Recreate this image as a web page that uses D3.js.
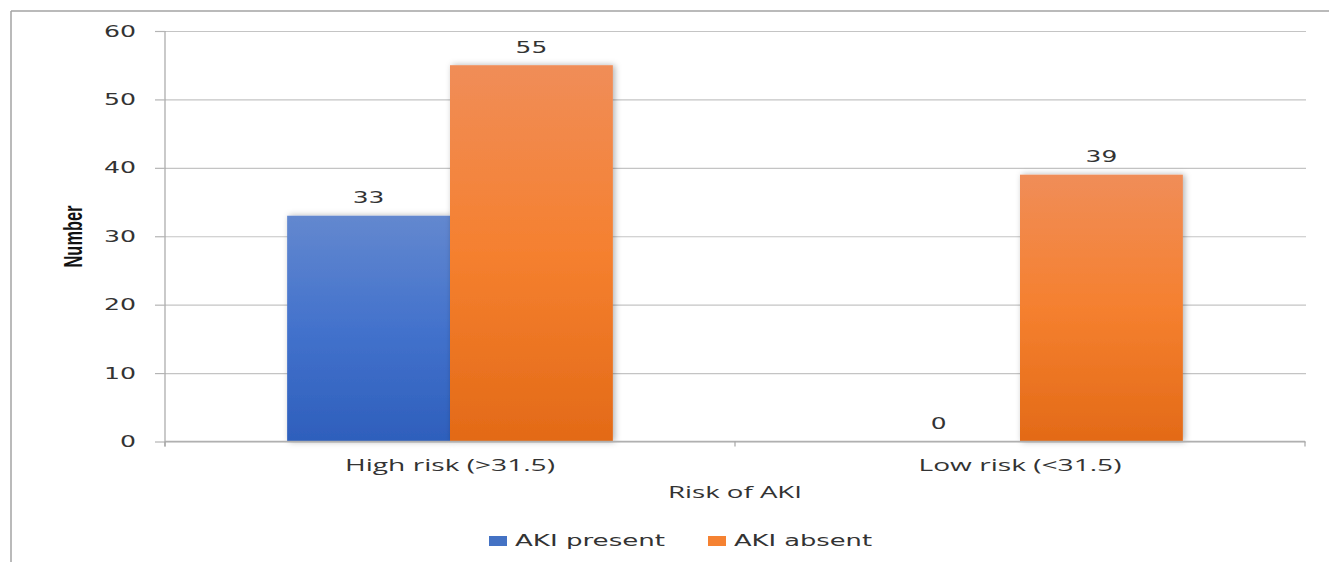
<!DOCTYPE html>
<html>
<head>
<meta charset="utf-8">
<script src="https://cdn.jsdelivr.net/npm/d3@7/dist/d3.min.js"></script>
<style>
  html, body { margin: 0; padding: 0; background: #fff; }
  svg { display: block; }
</style>
</head>
<body>
<svg id="chart" width="1329" height="562"></svg>
<script>
// ---- data ----
const categories = ["High risk (>31.5)", "Low risk (<31.5)"];
const seriesNames = ["AKI present", "AKI absent"];
const akiPresent = [33, 0];
const akiAbsent = [55, 39];
const yTicks = [0, 10, 20, 30, 40, 50, 60];
const xTitle = "Risk of AKI";
const yTitle = "Number";

const seriesValues = [akiPresent, akiAbsent];

(function () {
// ---- layout ----
const svg = d3.select("#chart");
const pLeft = 165, pRight = 1305, pTop = 31, pBottom = 441.5;

const y = d3.scaleLinear().domain([0, 60]).range([pBottom, pTop]);
const x0 = d3.scaleBand().domain(categories).range([pLeft, pRight]).paddingInner(0).paddingOuter(0);
const x1 = d3.scaleBand().domain(seriesNames).range([0, x0.bandwidth()]).paddingInner(0).paddingOuter(0.75);

// defs: gradients and shadow
const defs = svg.append("defs");
const gradDefs = [
  { id: "gBlue", stops: [["0%", "#6388cf"], ["50%", "#4372cc"], ["100%", "#2e5fbc"]] },
  { id: "gOrange", stops: [["0%", "#f08d58"], ["50%", "#f5802f"], ["100%", "#e36a17"]] }
];
gradDefs.forEach(g => {
  const lgd = defs.append("linearGradient").attr("id", g.id)
    .attr("x1", 0).attr("y1", 0).attr("x2", 0).attr("y2", 1);
  g.stops.forEach(s => lgd.append("stop").attr("offset", s[0]).attr("stop-color", s[1]));
});
const f = defs.append("filter").attr("id", "shadow")
  .attr("x", "-20%").attr("y", "-10%").attr("width", "140%").attr("height", "120%");
f.append("feDropShadow").attr("dx", 2).attr("dy", 0).attr("stdDeviation", 3)
  .attr("flood-color", "#000").attr("flood-opacity", 0.3);

// outer frame (top and left edges)
svg.append("line").attr("x1", 11).attr("y1", 11).attr("x2", 1329).attr("y2", 11)
  .attr("stroke", "#a3a3a3").attr("stroke-width", 1.5);
svg.append("line").attr("x1", 11).attr("y1", 11).attr("x2", 11).attr("y2", 562)
  .attr("stroke", "#a3a3a3").attr("stroke-width", 1.5);

// gridlines
const grid = svg.append("g").attr("transform", `translate(${pLeft},0)`)
  .call(d3.axisLeft(y).tickValues(yTicks).tickSize(-(1306 - pLeft)).tickFormat(""));
grid.select(".domain").remove();
grid.selectAll(".tick line").attr("stroke", "#c4c4c4").attr("stroke-width", 1.2);

// y axis with outer ticks and labels
const yAxis = svg.append("g").attr("transform", `translate(${pLeft},0)`)
  .call(d3.axisLeft(y).tickValues(yTicks).tickSize(10).tickPadding(19).tickSizeOuter(0));
yAxis.select(".domain").attr("d", `M0,${pTop}V${pBottom + 5}`).attr("stroke", "#a6a6a6").attr("stroke-width", 1.2);
yAxis.selectAll(".tick line").attr("stroke", "#b4b4b4").attr("stroke-width", 1.2);
yAxis.selectAll(".tick text")
  .attr("font-family", "DejaVu Sans, Verdana, sans-serif")
  .attr("font-size", 16).attr("fill", "#333")
  .each(function (d) {
    const s = String(d);
    d3.select(this).attr("textLength", s.length * 16).attr("lengthAdjust", "spacingAndGlyphs");
  });

// bars
const groups = svg.append("g").selectAll("g").data(categories).join("g")
  .attr("transform", d => `translate(${x0(d)},0)`);

groups.selectAll("rect")
  .data((c, i) => seriesNames.map((s, j) => ({ s, v: seriesValues[j][i], j })))
  .join("rect")
  .attr("x", d => x1(d.s))
  .attr("width", x1.bandwidth())
  .attr("y", d => y(d.v))
  .attr("height", d => y(0) - y(d.v))
  .attr("fill", d => d.j === 0 ? "url(#gBlue)" : "url(#gOrange)")
  .attr("filter", d => d.v > 0 ? "url(#shadow)" : null);

// x axis line and ticks
svg.append("line").attr("x1", pLeft).attr("x2", pRight).attr("y1", pBottom).attr("y2", pBottom)
  .attr("stroke", "#b0b0b0").attr("stroke-width", 1.4);
const boundaries = categories.map(c => x0(c)).concat([x0(categories[categories.length - 1]) + x0.bandwidth()]);
svg.append("g").selectAll("line").data(boundaries).join("line")
  .attr("x1", d => d).attr("x2", d => d)
  .attr("y1", pBottom).attr("y2", pBottom + 5)
  .attr("stroke", "#a6a6a6").attr("stroke-width", 1.2);

// value labels
groups.selectAll("text.val")
  .data((c, i) => seriesNames.map((s, j) => ({ s, v: seriesValues[j][i] })))
  .join("text").attr("class", "val")
  .attr("x", d => x1(d.s) + x1.bandwidth() / 2)
  .attr("y", d => y(d.v) - 12.5)
  .attr("text-anchor", "middle")
  .attr("font-family", "DejaVu Sans, Verdana, sans-serif")
  .attr("font-size", 16).attr("fill", "#333")
  .attr("textLength", d => String(d.v).length * 15.8)
  .attr("lengthAdjust", "spacingAndGlyphs")
  .text(d => d.v);

// category labels
const catWidths = [210, 203];
svg.append("g").selectAll("text").data(categories).join("text")
  .attr("x", d => x0(d) + x0.bandwidth() / 2)
  .attr("y", 470.5)
  .attr("text-anchor", "middle")
  .attr("font-family", "Open Sans, Lato, sans-serif")
  .attr("font-size", 17).attr("fill", "#333")
  .attr("textLength", (d, i) => catWidths[i])
  .attr("lengthAdjust", "spacingAndGlyphs")
  .text(d => d);

// x title
svg.append("text")
  .attr("x", (pLeft + pRight) / 2).attr("y", 497.5)
  .attr("text-anchor", "middle")
  .attr("font-family", "Open Sans, Lato, sans-serif")
  .attr("font-size", 17).attr("fill", "#333")
  .attr("textLength", 134).attr("lengthAdjust", "spacingAndGlyphs")
  .text(xTitle);

// y title
svg.append("text")
  .attr("transform", "translate(81.5,236.5) rotate(-90) scale(1,1.4)")
  .attr("text-anchor", "middle")
  .attr("font-family", "Liberation Sans Narrow, Arial Narrow, Liberation Sans, sans-serif")
  .attr("font-size", 19).attr("font-weight", "bold").attr("fill", "#111")
  .attr("textLength", 62).attr("lengthAdjust", "spacingAndGlyphs")
  .text(yTitle);

// legend
const legendItems = [
  { name: seriesNames[0], color: "#4472c4", kx: 489, tx: 515, tw: 150 },
  { name: seriesNames[1], color: "#f58232", kx: 708, tx: 734, tw: 138 }
];
const lg = svg.append("g");
lg.selectAll("rect").data(legendItems).join("rect")
  .attr("x", d => d.kx).attr("y", 536).attr("width", 18).attr("height", 10)
  .attr("fill", d => d.color);
lg.selectAll("text").data(legendItems).join("text")
  .attr("x", d => d.tx).attr("y", 545.5)
  .attr("font-family", "DejaVu Sans, Verdana, sans-serif")
  .attr("font-size", 16).attr("fill", "#333")
  .attr("textLength", d => d.tw).attr("lengthAdjust", "spacingAndGlyphs")
  .text(d => d.name);
})();
</script>
</body>
</html>
